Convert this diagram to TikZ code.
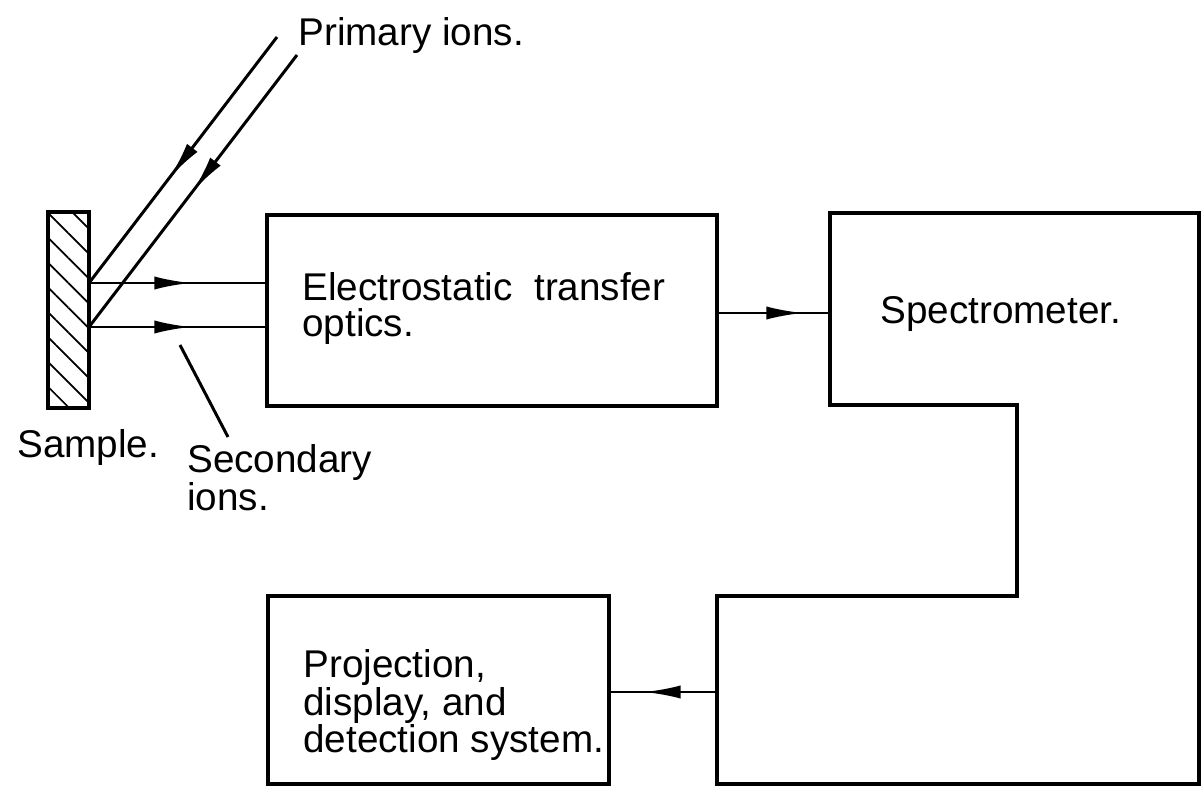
\documentclass[tikz,border=0pt]{standalone}
\usepackage{fontspec}
\setmainfont{Liberation Sans}
\usetikzlibrary{arrows.meta,calc,decorations.markings,patterns.meta}
\tikzset{
  midarrow/.style={postaction={decorate},decoration={markings,mark=at position #1 with {\arrow{Latex[length=21pt,width=7.5pt]}}}},
  block/.style={draw,line width=2pt,inner sep=0pt},
  lbl/.style={anchor=north west,inner sep=0pt,align=left},
  ionline/.style={line width=1.7pt}
}
\begin{document}
\begin{tikzpicture}[x=0.02cm,y=-0.02cm,font=\fontsize{22}{20.5}\selectfont]
\useasboundingbox (0,0) rectangle (1202,786);
\node[block,minimum width=0.82cm,minimum height=3.92cm,pattern={Lines[angle=-45,distance=10pt,line width=1pt]}] (sample) at (68.5,310) {};
\node[block,minimum width=9cm,minimum height=3.82cm] (optics) at (492,310.5) {};
\node[block,minimum width=6.82cm,minimum height=3.76cm] (proj) at (438.5,690) {};
\draw[line width=2pt] (830,213) -- (1199,213) -- (1199,784) -- (717,784) -- (717,596) -- (1017,596) -- (1017,405) -- (830,405) -- cycle;
\coordinate (specin) at (830,313);
\coordinate (specout) at (717,692);
\coordinate (primA) at (277,37);
\coordinate (primB) at (297,55);
\coordinate (hitA) at (89,283);
\coordinate (hitB) at (89,327);
\coordinate (secptr) at (180,345);
\draw[ionline,midarrow=0.57] (primA) -- (hitA);
\draw[ionline,midarrow=0.5] (primB) -- (hitB);
\draw[ionline,midarrow=0.58] (hitA) -- (optics.west |- hitA);
\draw[ionline,midarrow=0.58] (hitB) -- (optics.west |- hitB);
\draw[ionline,midarrow=0.76] (optics.east |- specin) -- (specin);
\draw[ionline,midarrow=0.69] (specout) -- (proj.east |- specout);
\node[lbl] (primlbl) at (298,17) {Primary ions.};
\node[lbl] (opticslbl) at (302,272) {Electrostatic\ \ transfer\\optics.};
\node[lbl] (speclbl) at (880,296) {Spectrometer.};
\node[lbl] (projlbl) at (303,649) {Projection,\\display, and\\detection system.};
\node[lbl] (samplelbl) at (17,429) {Sample.};
\node[lbl] (seclbl) at (187,444) {Secondary\\ions.};
\draw[ionline] (secptr) -- ($(seclbl.north west)+(41,-7)$);
\end{tikzpicture}
\end{document}
